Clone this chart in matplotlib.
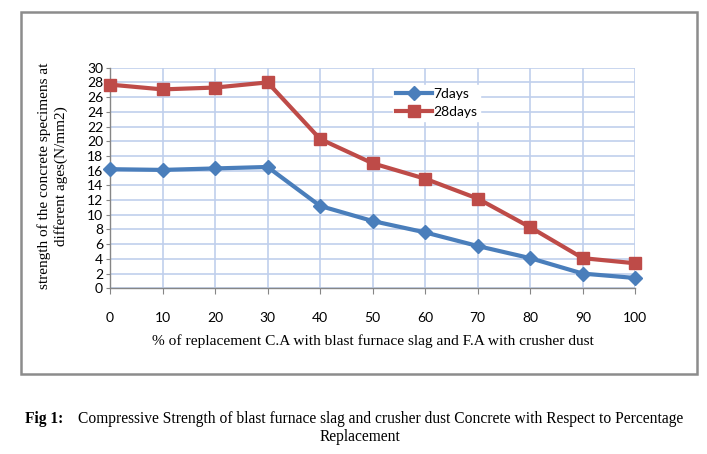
import matplotlib
matplotlib.use("Agg")
import matplotlib.pyplot as plt
from matplotlib.patches import Rectangle

replacement = [0, 10, 20, 30, 40, 50, 60, 70, 80, 90, 100]
days7 = [16.2, 16.1, 16.3, 16.5, 11.2, 9.15, 7.6, 5.75, 4.1, 2.0, 1.4]
days28 = [27.7, 27.05, 27.3, 28.0, 20.3, 17.0, 14.9, 12.2, 8.3, 4.1, 3.4]
yticks = list(range(0, 31, 2))

W, H = 707, 454
fig = plt.figure(figsize=(W/100, H/100), dpi=100)
fig.patch.set_facecolor("white")

# outer chart frame
fig.patches.append(Rectangle((21/W, 1-374/H), (697-21)/W, (374-12)/H,
                             transform=fig.transFigure, fill=False,
                             edgecolor="#8c8c8c", linewidth=1.8))

x0, x1 = 110, 635.3
y0, y1 = 67.7, 288.3
ax = fig.add_axes([x0/W, 1-y1/H, (x1-x0)/W, (y1-y0)/H])
ax.set_xlim(0, 100)
ax.set_ylim(0, 30)
ax.set_xticks(replacement)
ax.set_yticks(yticks)
ax.grid(True, color="#c0cfec", linewidth=1.2)
ax.set_axisbelow(True)
for s in ["top", "right"]:
    ax.spines[s].set_visible(False)
for s in ["left", "bottom"]:
    ax.spines[s].set_color("#868686")
    ax.spines[s].set_linewidth(1.0)
ax.tick_params(axis="x", direction="out", length=4, color="#868686", pad=13,
               labelsize=10)
ax.tick_params(axis="y", direction="out", length=3, color="#868686", pad=2,
               labelsize=10)
for lab in ax.get_xticklabels() + ax.get_yticklabels():
    lab.set_fontfamily("Lato")

ax.plot(replacement, days7, color="#4a7ebb", linewidth=3, marker="D",
        markersize=7, label="7days", clip_on=False, zorder=3)
ax.plot(replacement, days28, color="#be4b48", linewidth=3, marker="s",
        markersize=9, label="28days", clip_on=False, zorder=3)

leg = ax.legend(loc="upper left", bbox_to_anchor=((393-x0)/(x1-x0), (y1-85)/(y1-y0)),
                frameon=True, fancybox=False, framealpha=1, edgecolor="white",
                prop={"family": "Lato", "size": 10}, handlelength=2.6,
                handletextpad=0.1, labelspacing=0.45, borderpad=0.2,
                borderaxespad=0)

fig.text(44/W, 1-176/H, "strength of the concrete specimens at", rotation=90,
         ha="center", va="center", family="Liberation Serif", fontsize=11)
fig.text(61/W, 1-176/H, "different ages(N/mm2)", rotation=90,
         ha="center", va="center", family="Liberation Serif", fontsize=11)

fig.text(373/W, 1-341/H,
         "% of replacement C.A with blast furnace slag and F.A with crusher dust",
         ha="center", va="center", family="Liberation Serif", fontsize=11.1)

fig.text(25/W, 1-419/H, "Fig 1:", ha="left", va="center",
         family="Liberation Serif", fontsize=11.2, fontweight="bold")
fig.text(78/W, 1-419/H,
         "Compressive Strength of blast furnace slag and crusher dust Concrete with Respect to Percentage",
         ha="left", va="center", family="Liberation Serif", fontsize=11.2)
fig.text(360/W, 1-437/H, "Replacement", ha="center", va="center",
         family="Liberation Serif", fontsize=11.2)

fig.savefig("out.png", dpi=100)
